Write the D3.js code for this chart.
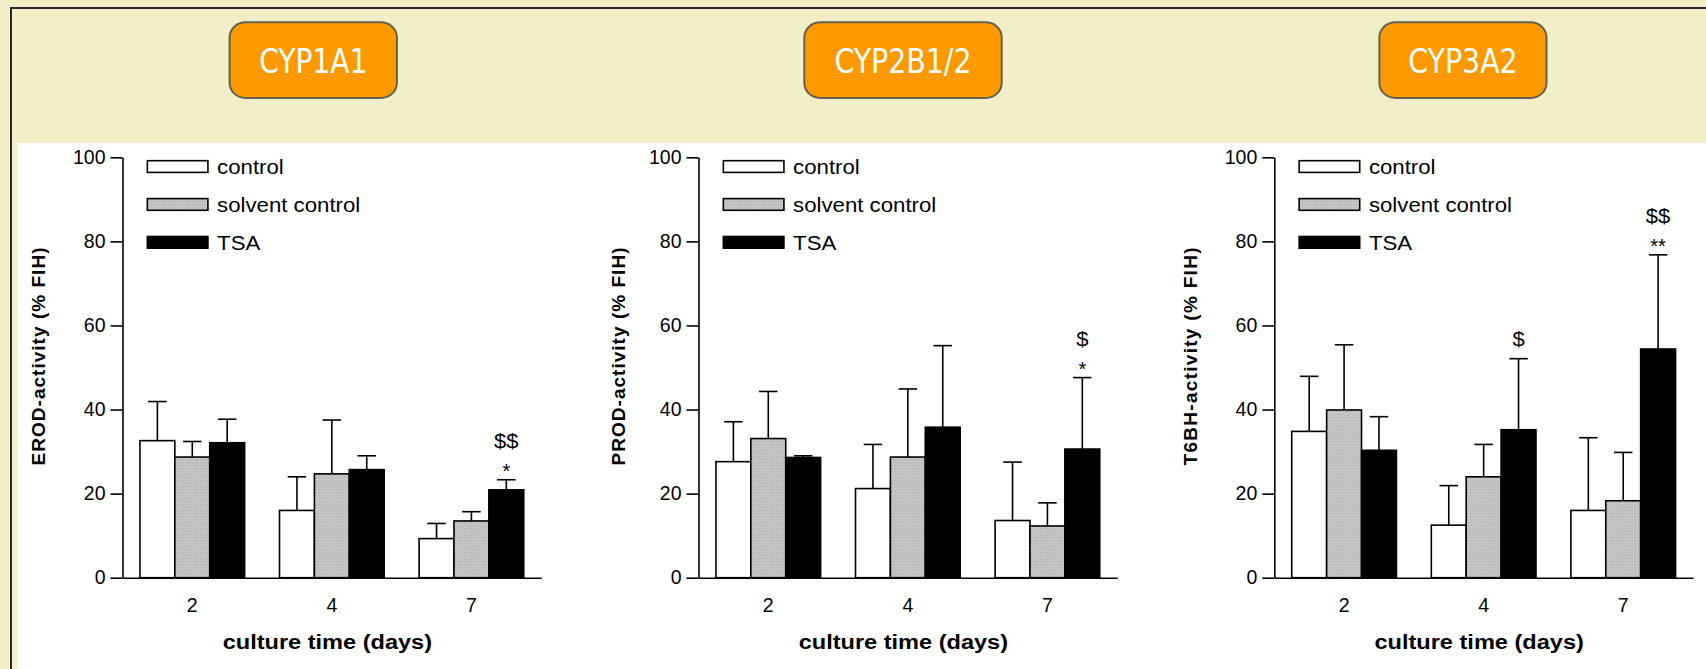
<!DOCTYPE html>
<html>
<head>
<meta charset="utf-8">
<script src="https://cdn.jsdelivr.net/npm/d3@7"></script>
<style>
  html, body { margin: 0; padding: 0; background: #f2efc8; overflow: hidden; }
  svg { display: block; }
  text { font-family: "Liberation Sans", Arial, sans-serif; }
</style>
</head>
<body>
<svg id="chart" width="1706" height="669"></svg>
<script>
// ---------------- DATA ----------------
const days = ["2", "4", "7"];
const groups = ["control", "solvent control", "TSA"];
const panelTitles = ["CYP1A1", "CYP2B1/2", "CYP3A2"];
const yLabels = ["EROD-activity (% FIH)", "PROD-activity (% FIH)", "T6BH-activity (% FIH)"];
const xLabel = "culture time (days)";
const yTicks = [0, 20, 40, 60, 80, 100];

// means [day][group]
const erodMean = [[32.6, 28.7, 32.1], [16.0, 24.7, 25.7], [9.3, 13.5, 20.9]];
const erodSD   = [[9.3, 3.7, 5.6], [8.0, 12.8, 3.3], [3.6, 2.2, 2.4]];
const prodMean = [[27.6, 33.1, 28.6], [21.2, 28.7, 35.8], [13.6, 12.3, 30.6]];
const prodSD   = [[9.5, 11.2, 0.4], [10.5, 16.2, 19.4], [13.9, 5.5, 17.0]];
const t6bhMean = [[34.8, 39.9, 30.3], [12.5, 24.0, 35.2], [16.0, 18.3, 54.4]];
const t6bhSD   = [[13.1, 15.5, 8.0], [9.4, 7.7, 16.9], [17.3, 11.5, 22.4]];

// significance marks
const erodMarks = [{ day: "7", group: "TSA", star: "*", dollar: "$$" }];
const prodMarks = [{ day: "7", group: "TSA", star: "*", dollar: "$" }];
const t6bhMarks = [{ day: "4", group: "TSA", star: "", dollar: "$" },
                   { day: "7", group: "TSA", star: "**", dollar: "$$" }];

// ---------------- LAYOUT ----------------
const W = 1706, H = 669;
const beige = "#f2efc8";
const axisLen = 418.7;
const panels = [
  { x0: 122.5,  box: [229.6, 396.9],   titleW: 108,   ylabOff: 84,   mean: erodMean, sd: erodSD, marks: erodMarks },
  { x0: 698.5,  box: [804.3, 1001.7],  titleW: 137,   ylabOff: 80.5, mean: prodMean, sd: prodSD, marks: prodMarks },
  { x0: 1274.3, box: [1379.4, 1546.5], titleW: 109.4, ylabOff: 84,   mean: t6bhMean, sd: t6bhSD, marks: t6bhMarks }
];
const yTop = 157.3, yBot = 577.7;

const svg = d3.select("#chart");

// pattern for solvent control
const defs = svg.append("defs");
const pat = defs.append("pattern").attr("id", "grayPat")
  .attr("patternUnits", "userSpaceOnUse").attr("width", 3).attr("height", 3);
pat.append("rect").attr("width", 3).attr("height", 3).attr("fill", "#c6c6c6");
pat.append("rect").attr("width", 1).attr("height", 1).attr("fill", "#acacac");
pat.append("rect").attr("x", 1).attr("y", 1).attr("width", 1).attr("height", 1).attr("fill", "#b8b8b8");

const fills = { "control": "#ffffff", "solvent control": "url(#grayPat)", "TSA": "#000000" };

// background
svg.append("rect").attr("width", W).attr("height", H).attr("fill", beige);
svg.append("rect").attr("x", 17.5).attr("y", 143).attr("width", W - 17.5).attr("height", H - 143).attr("fill", "#ffffff");
svg.append("line").attr("x1", 10).attr("x2", W).attr("y1", 8).attr("y2", 8)
  .attr("stroke", "#2a2a2a").attr("stroke-width", 2);
svg.append("line").attr("x1", 11).attr("x2", 11).attr("y1", 8).attr("y2", H)
  .attr("stroke", "#2a2a2a").attr("stroke-width", 2);

const y = d3.scaleLinear().domain([0, 100]).range([yBot, yTop]);

function stretch(sel, f) {
  sel.each(function () {
    const n = this.getComputedTextLength();
    d3.select(this).attr("textLength", n * f).attr("lengthAdjust", "spacingAndGlyphs");
  });
}

panels.forEach((p, pi) => {
  const g = svg.append("g");
  const x1 = p.x0 + axisLen;

  // header box
  const bx0 = p.box[0], bx1 = p.box[1];
  g.append("rect").attr("x", bx0).attr("y", 22.3).attr("width", bx1 - bx0).attr("height", 75.7)
    .attr("rx", 16).attr("ry", 15).attr("fill", "#ff9900")
    .attr("stroke", "#62624f").attr("stroke-width", 2);
  g.append("text").attr("x", (bx0 + bx1) / 2).attr("y", 72.7)
    .attr("text-anchor", "middle").attr("fill", "#ffffff")
    .style("font-family", "'Liberation Sans Narrow','DejaVu Sans Condensed','Liberation Sans',sans-serif")
    .style("font-size", "33px")
    .attr("textLength", p.titleW).attr("lengthAdjust", "spacingAndGlyphs")
    .text(panelTitles[pi]);

  const x = d3.scaleBand().domain(days).range([p.x0, x1]).paddingInner(0.25).paddingOuter(0.125);
  const xs = d3.scaleBand().domain(groups).range([0, x.bandwidth()]);
  const step = x.step();

  // bars
  const dayG = g.selectAll(".day").data(days).enter().append("g")
    .attr("transform", d => `translate(${x(d)},0)`);
  dayG.each(function (d, di) {
    const dg = d3.select(this);
    groups.forEach((grp, gi) => {
      const m = p.mean[di][gi], s = p.sd[di][gi];
      const bx = xs(grp), bw = xs.bandwidth();
      const cx = bx + bw / 2, cap = bw * 0.53;
      dg.append("line").attr("x1", cx).attr("x2", cx).attr("y1", y(m)).attr("y2", y(m + s))
        .attr("stroke", "#000").attr("stroke-width", 1.6);
      dg.append("line").attr("x1", cx - cap / 2).attr("x2", cx + cap / 2).attr("y1", y(m + s)).attr("y2", y(m + s))
        .attr("stroke", "#000").attr("stroke-width", 1.6);
      dg.append("rect").attr("x", bx).attr("y", y(m)).attr("width", bw).attr("height", y(0) - y(m))
        .attr("fill", fills[grp]).attr("stroke", "#000").attr("stroke-width", 1.6);
    });
  });

  // significance marks
  p.marks.forEach(mk => {
    const di = days.indexOf(mk.day), gi = groups.indexOf(mk.group);
    const top = y(p.mean[di][gi] + p.sd[di][gi]);
    const cx = x(mk.day) + xs(mk.group) + xs.bandwidth() / 2;
    let dollarY;
    if (mk.star) {
      g.append("text").attr("x", cx).attr("y", top - 2).attr("text-anchor", "middle")
        .style("font-size", "20px").attr("fill", "#000").text(mk.star);
      dollarY = top - 32;
    } else {
      dollarY = top - 13;
    }
    const dt = g.append("text").attr("x", cx).attr("y", dollarY).attr("text-anchor", "middle")
      .style("font-size", "20px").attr("fill", "#000").text(mk.dollar);
    stretch(dt, 1.1);
  });

  // y axis
  const yAxis = g.append("g").attr("transform", `translate(${p.x0},0)`)
    .call(d3.axisLeft(y).tickValues(yTicks).tickSize(12).tickSizeOuter(0).tickPadding(5));
  yAxis.select(".domain").attr("stroke", "#000").attr("stroke-width", 1.6);
  yAxis.selectAll(".tick line").attr("stroke", "#000").attr("stroke-width", 1.6);
  yAxis.selectAll(".tick text").style("font-size", "19.5px").attr("fill", "#000")
    .style("font-family", "'Liberation Sans',Arial,sans-serif");

  // x axis
  const xAxis = g.append("g").attr("transform", `translate(0,${yBot})`)
    .call(d3.axisBottom(x).tickSize(0).tickSizeOuter(0).tickPadding(20));
  xAxis.select(".domain").attr("stroke", "#000").attr("stroke-width", 1.6);
  xAxis.selectAll(".tick text").style("font-size", "19.5px").attr("fill", "#000")
    .style("font-family", "'Liberation Sans',Arial,sans-serif");

  // legend
  const lx = p.x0 + step * 0.178, lw = step * 0.434;
  groups.forEach((grp, gi) => {
    const cy = 166.5 + gi * 37.9;
    g.append("rect").attr("x", lx).attr("y", cy - 5.8).attr("width", lw).attr("height", 11.7)
      .attr("fill", fills[grp]).attr("stroke", "#000").attr("stroke-width", 1.6);
    const t = g.append("text").attr("x", lx + lw + 9.2).attr("y", cy + 7.8)
      .style("font-size", "20px").attr("fill", "#000").text(grp);
    stretch(t, 1.11);
  });

  // axis labels
  g.append("text").attr("transform", `translate(${p.x0 - p.ylabOff},356.5) rotate(-90)`)
    .attr("text-anchor", "middle").attr("dy", "0.35em")
    .style("font-size", "19px").style("font-weight", "bold").attr("fill", "#000")
    .attr("textLength", 218).attr("lengthAdjust", "spacing")
    .text(yLabels[pi]);
  g.append("text").attr("x", (p.x0 + x1) / 2 - 4.5).attr("y", 649)
    .attr("text-anchor", "middle")
    .style("font-size", "20px").style("font-weight", "bold").attr("fill", "#000")
    .attr("textLength", axisLen * 0.5).attr("lengthAdjust", "spacingAndGlyphs")
    .text(xLabel);
});
</script>
</body>
</html>
